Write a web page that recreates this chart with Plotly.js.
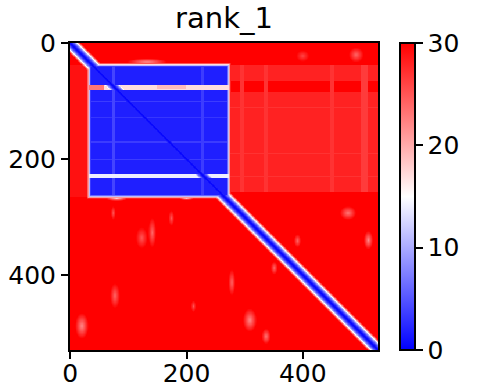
<!DOCTYPE html>
<html><head><meta charset="utf-8">
<script src="https://cdn.plot.ly/plotly-3.0.1.min.js"></script>
<style>html,body{margin:0;padding:0;background:#fff;}#chart{width:484px;height:392px;}</style>
</head><body><div id="chart"></div>
<script>
// ---- data ----
const N = 530;
// value by distance |row-col| from the diagonal
const diagProfile = [0.3, 0.6, 1.1, 1.8, 2.7, 3.7, 4.8, 6, 7.4, 9, 10.8, 12.8, 15, 17.4, 20, 22.6, 25, 27.4, 29.5];
// blue block [rowStart, rowEnd, colStart, colEnd, value]
const block = [38, 265, 33, 273, 1.8];
// block edge: values at inside distance 0,1,2 and outside distance 1,2,3,4
const edgeInside = [11, 6, 3.5];
const edgeOutside = [17, 21, 25, 28];
// light rows inside the block [rowStart, rowEnd, colStart, colEnd, value]
const blockRows = [[72, 80, 33, 58, 23], [72, 80, 58, 273, 17], [73, 79, 150, 200, 19], [227, 232, 33, 273, 14],
                   [100, 101, 33, 273, 3.5], [128, 129, 33, 273, 3.2], [170, 171, 33, 273, 3.5], [200, 201, 33, 273, 3.5]];
// light columns inside the block
const blockCols = [[38, 265, 72, 76, 4], [38, 265, 226, 229, 3.5]];
// background regions [rowStart, rowEnd, colStart, colEnd, value]
const regions = [[0, 530, 0, 530, 32], [38, 258, 273, 530, 28], [66, 84, 273, 530, 31],
                 [38, 265, 0, 33, 29], [0, 38, 0, 530, 31], [265, 530, 0, 265, 31]];
// lighter streaks [rowStart, rowEnd, colStart, colEnd, value]
const streaks = [[38, 258, 292, 300, 27], [38, 258, 333, 340, 27], [38, 258, 448, 455, 27],
                 [38, 258, 500, 512, 26.5], [110, 112, 273, 530, 27], [150, 151, 273, 530, 27],
                 [190, 191, 273, 530, 27], [230, 232, 273, 530, 27], [38, 265, 29, 33, 24]];
// light patches [row, col, halfHeight, halfWidth, value]
const spots = [[20, 492, 15, 15, 24], [22, 400, 12, 14, 26], [32, 132, 6, 38, 21],
               [293, 478, 15, 18, 23], [340, 513, 20, 10, 22], [341, 391, 15, 8, 24],
               [478, 309, 25, 15, 22], [506, 337, 17, 10, 23], [388, 351, 15, 8, 24],
               [488, 20, 25, 13, 22], [436, 77, 25, 10, 24], [327, 141, 30, 8, 24],
               [413, 278, 30, 8, 24], [293, 74, 14, 5, 25], [336, 123, 22, 12, 25],
               [302, 174, 16, 6, 25], [454, 212, 12, 5, 25], [268, 80, 4, 22, 18], [268, 200, 3, 16, 19]];
const tickVals = [0, 200, 400];
const cbTicks = [0, 10, 20, 30];
const titleText = 'rank_1';

// ---- build matrix ----
const z = [];
for (let i = 0; i < N; i++) {
  const row = new Array(N);
  for (let j = 0; j < N; j++) {
    let v = 32;
    for (const r of regions) if (i >= r[0] && i < r[1] && j >= r[2] && j < r[3]) v = r[4];
    for (const s of streaks) if (i >= s[0] && i < s[1] && j >= s[2] && j < s[3]) v = Math.min(v, s[4]);
    for (const p of spots) {
      const dr = (i - p[0]) / p[2], dc = (j - p[1]) / p[3];
      const d = Math.sqrt(dr * dr + dc * dc);
      if (d < 1) v = Math.min(v, p[4] + (v - p[4]) * d);
    }
    const [r0, r1, c0, c1, bv] = block;
    const inside = i >= r0 && i < r1 && j >= c0 && j < c1;
    if (inside) {
      let bval = bv;
      for (const s of blockRows) if (i >= s[0] && i <= s[1] && j >= s[2] && j < s[3]) bval = s[4];
      for (const s of blockCols) if (i >= s[0] && i < s[1] && j >= s[2] && j <= s[3]) bval = Math.max(bval, s[4]);
      const din = Math.min(i - r0, r1 - 1 - i, j - c0, c1 - 1 - j);
      if (din < edgeInside.length) bval = Math.max(bval, edgeInside[din]);
      v = bval;
    } else {
      const dout = Math.max(r0 - i, i - (r1 - 1), c0 - j, j - (c1 - 1));
      if (dout >= 1 && dout <= edgeOutside.length) v = Math.min(v, edgeOutside[dout - 1]);
    }
    const dd = Math.abs(i - j);
    if (dd < diagProfile.length) v = Math.min(v, diagProfile[dd]);
    row[j] = v;
  }
  z.push(row);
}

const font = {family: 'DejaVu Sans', color: '#000', size: 25};
const axisCommon = {
  tickvals: tickVals, ticks: 'outside', ticklen: 7, tickwidth: 2, tickcolor: '#000',
  showline: true, linecolor: '#000', linewidth: 2, mirror: true, showgrid: false, zeroline: false,
  tickfont: font
};
const trace = {
  type: 'heatmap', z: z, zmin: 0, zmax: 30, zsmooth: false,
  colorscale: [[0, 'rgb(0,0,255)'], [0.5, 'rgb(255,255,255)'], [1, 'rgb(255,0,0)']],
  colorbar: {
    tickvals: cbTicks, ticks: 'outside', ticklen: 7, tickwidth: 2, tickcolor: '#000',
    outlinewidth: 2, outlinecolor: '#000', thickness: 15, thicknessmode: 'pixels',
    len: 1, lenmode: 'fraction', y: 0.5, yanchor: 'middle', ypad: 0, xpad: 0,
    x: 1.0714, xanchor: 'left', xref: 'paper', tickfont: font
  },
  hoverinfo: 'skip'
};
const layout = {
  width: 484, height: 392,
  margin: {l: 70, r: 106, t: 43, b: 42},
  paper_bgcolor: '#fff', plot_bgcolor: '#fff',
  title: {text: titleText, font: {family: 'DejaVu Sans', color: '#000', size: 29},
          x: 0.5, xref: 'paper', xanchor: 'center', y: 0.955, yanchor: 'middle'},
  xaxis: Object.assign({range: [-0.5, N - 0.5], ticklabelstandoff: -7}, axisCommon),
  yaxis: Object.assign({range: [N - 0.5, -0.5]}, axisCommon)
};
Plotly.newPlot('chart', [trace], layout, {staticPlot: true, displayModeBar: false});
</script></body></html>
